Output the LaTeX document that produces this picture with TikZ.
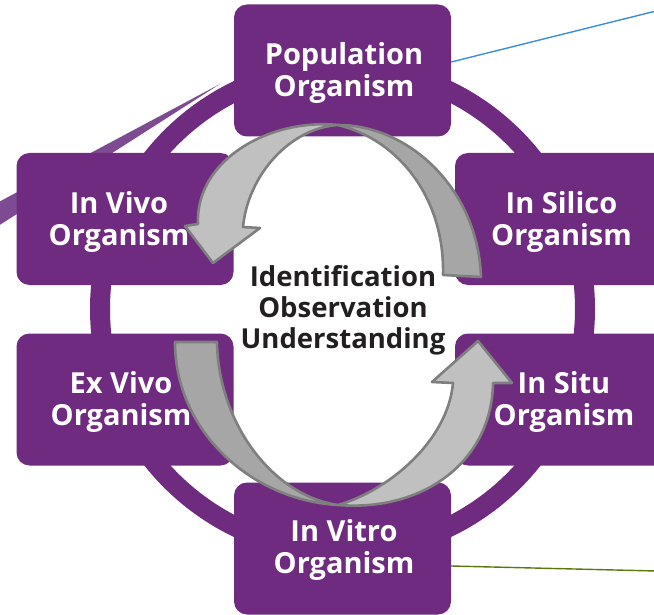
\documentclass[tikz,border=0pt]{standalone}
\usepackage{fontspec}
\setmainfont{Open Sans}
\definecolor{purp}{HTML}{6F2B7F}
\definecolor{bandc}{HTML}{7E4B93}
\definecolor{arlight}{HTML}{C0C0C0}
\definecolor{ardark}{HTML}{A6A6A6}
\definecolor{arline}{HTML}{7F7F7F}
\definecolor{bluel}{HTML}{3C8CE0}
\definecolor{greenl}{HTML}{5A7810}
\definecolor{ctext}{HTML}{231F20}
\begin{document}
\begin{tikzpicture}[x=1pt,y=-1pt,
  box/.style={fill=purp, rounded corners=13pt, minimum width=217pt, minimum height=132pt, inner sep=0pt},
  lbl/.style={text=white, font=\bfseries\fontsize{29}{32}\selectfont, align=center, inner sep=0pt},
  ctr/.style={text=ctext, font=\bfseries\fontsize{27.5}{31}\selectfont, align=center, inner sep=0pt},
  arpart/.style={draw=arline, line width=2.6pt, line join=round},
  ringst/.style={draw=purp, line width=20pt},
  conn/.style={line width=1.4pt}]
\useasboundingbox (0,0) rectangle (654,615);
% band
\fill[bandc] (-5,204) -- (220,84) -- (-5,228) -- cycle;
% ring
\coordinate (c) at (342.5,309);
\draw[ringst] (c) circle (242.5pt);
% connector end points
\coordinate (bend) at (656,11);
\coordinate (gend) at (656,571);
% boxes
\node[box] (pop) at (342.5,70.5) {};
\node[box] (vivo) at (125,219) {};
\node[box] (exvivo) at (125,399.5) {};
\node[box] (silico) at (563.5,219) {};
\node[box] (situ) at (563.5,399.5) {};
\node[box] (vitro) at (342.5,548.5) {};
% connectors
\draw[conn, bluel] ([yshift=8.5pt]pop.east) -- (bend);
\draw[conn, greenl] ([yshift=-17.5pt]vitro.east) -- (gend);
% labels
\node[lbl] (tpop) at (344,73) {Population\\Organism};
\node[lbl] (tvivo) at (119,222) {In Vivo\\Organism};
\node[lbl] (texvivo) at (121,402) {Ex Vivo\\Organism};
\node[lbl] (tsilico) at (561.5,222) {In Silico\\Organism};
\node[lbl] (tsitu) at (564,402) {In Situ\\Organism};
\node[lbl] (tvitro) at (344,550) {In Vitro\\Organism};
\node[ctr] (center) at (343,310) {Identification\\Observation\\Understanding};
% upper arrow: dark part
\filldraw[arpart, fill=ardark] (338,125) .. controls (410,125) and (478,190) .. (481,277)
  -- (443,275) .. controls (445,200) and (400,140) .. (338,125) -- cycle;
% upper arrow: light part with head
\filldraw[arpart, fill=arlight] (338,125) .. controls (270,118) and (195,160) .. (198,224)
  -- (185,226) -- (213,263) -- (260,228) -- (243,227)
  .. controls (248,175) and (290,128) .. (338,125) -- cycle;
% lower arrow: dark part
\filldraw[arpart, fill=ardark] (175,342) .. controls (175,430) and (250,500) .. (338,505)
  .. controls (270,495) and (218,420) .. (217,342) -- cycle;
% lower arrow: light part with head
\filldraw[arpart, fill=arlight] (338,505) .. controls (425,512) and (492,460) .. (493,383)
  -- (512,383) -- (478,341) -- (432,382) -- (453,383)
  .. controls (448,440) and (390,490) .. (338,505) -- cycle;
\end{tikzpicture}
\end{document}
